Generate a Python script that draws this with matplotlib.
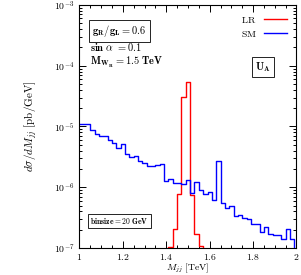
import numpy as np
import matplotlib
matplotlib.use("Agg")
import matplotlib.pyplot as plt
from matplotlib.ticker import MultipleLocator, FixedLocator, FuncFormatter, LogLocator, NullFormatter

plt.rcParams['mathtext.fontset'] = 'cm'

# Данные: точки через 20 ГэВ (ступени по центрам бинов)
m_jj = np.round(np.arange(1.00, 2.001, 0.02), 2)

sm = [1.10e-5, 1.10e-5, 1.10e-5, 8.75e-6, 7.53e-6, 6.90e-6, 6.90e-6, 6.00e-6,
      5.41e-6, 4.48e-6, 5.15e-6, 3.49e-6, 3.18e-6, 3.27e-6, 2.70e-6, 2.51e-6,
      2.24e-6, 2.24e-6, 2.32e-6, 2.42e-6, 1.28e-6, 1.35e-6, 1.16e-6, 1.16e-6,
      1.13e-6, 1.32e-6, 8.13e-7, 1.21e-6, 9.01e-7, 7.66e-7, 8.45e-7, 6.17e-7,
      2.74e-6, 5.61e-7, 4.55e-7, 4.91e-7, 3.36e-7, 3.56e-7, 3.18e-7, 3.00e-7,
      2.53e-7, 2.45e-7, 1.85e-7, 2.22e-7, 1.73e-7, 1.64e-7, 1.61e-7, 1.41e-7,
      2.04e-7, 1.41e-7, 5e-8]

lr_m = [1.38, 1.40, 1.42, 1.44, 1.46, 1.48, 1.50, 1.52, 1.54, 1.56, 1.58]
lr = [1e-9, 1e-9, 1.06e-7, 2.02e-7, 7.74e-7, 3.10e-5, 5.46e-5, 7.6e-7,
      1.68e-7, 1.08e-7, 1e-9]

x_ticks = [1, 1.2, 1.4, 1.6, 1.8, 2]

fig = plt.figure(figsize=(3.01, 2.75), dpi=100)
ax = fig.add_axes([0.264, 0.098, 0.721, 0.884])

ax.plot(lr_m, lr, drawstyle='steps-mid', color='#ff0000', lw=1.0, label=r'$\mathrm{LR}$')
ax.plot(m_jj, sm, drawstyle='steps-mid', color='#0000ff', lw=1.0, label=r'$\mathrm{SM}$')

ax.set_yscale('log')
ax.set_xlim(1, 2)
ax.set_ylim(1e-7, 1e-3)

ax.xaxis.set_major_locator(FixedLocator(x_ticks))
ax.xaxis.set_minor_locator(MultipleLocator(0.05))
ax.xaxis.set_major_formatter(FuncFormatter(lambda v, p: r'$%g$' % v))
ax.yaxis.set_major_locator(LogLocator(base=10))
ax.yaxis.set_minor_locator(LogLocator(base=10, subs=np.arange(2, 10)))
ax.yaxis.set_minor_formatter(NullFormatter())
ax.yaxis.set_major_formatter(FuncFormatter(lambda v, p: r'$10^{%d}$' % round(np.log10(v))))

ax.tick_params(which='both', direction='in', top=True, right=True, labelsize=7, width=0.7)
ax.tick_params(axis='x', pad=3)
ax.tick_params(which='major', length=5)
ax.tick_params(which='minor', length=2.5)
for s in ax.spines.values():
    s.set_linewidth(0.8)

ax.set_xlabel(r'$M_{jj}\ \mathrm{[TeV]}$', fontsize=7, va='center')
ax.xaxis.set_label_coords(0.5, -0.082)
ax.set_ylabel(r'$d\sigma/dM_{jj}\ \mathrm{[pb/GeV]}$', fontsize=8)
ax.yaxis.set_label_coords(-0.18, 0.5)

box = dict(boxstyle='square,pad=0.3', fc='white', ec='black', lw=0.6)
ax.text(0.058, 0.893, r'$\mathbf{g_R/g_L = 0.6}$', transform=ax.transAxes,
        fontsize=7.5, ha='left', va='center', bbox=box)
ax.text(0.048, 0.827, r'$\mathbf{sin}\ \alpha\ \mathbf{= 0.1}$', transform=ax.transAxes,
        fontsize=7.5, ha='left', va='center')
ax.text(0.048, 0.765, r'$\mathbf{M_{W_R} = 1.5\ TeV}$', transform=ax.transAxes,
        fontsize=7.5, ha='left', va='center')
ax.text(0.846, 0.743, r'$\mathbf{U_A}$', transform=ax.transAxes,
        fontsize=7.5, ha='center', va='center', bbox=box)
ax.text(0.184, 0.111, r'$\mathbf{binsize{=}20\ GeV}$', transform=ax.transAxes,
        fontsize=5.5, ha='center', va='center', bbox=box)

ax.legend(loc='upper right', frameon=False, fontsize=7, markerfirst=False,
          handlelength=2.3, borderaxespad=0.6, labelspacing=0.4)

fig.savefig('out.png', dpi=100)
